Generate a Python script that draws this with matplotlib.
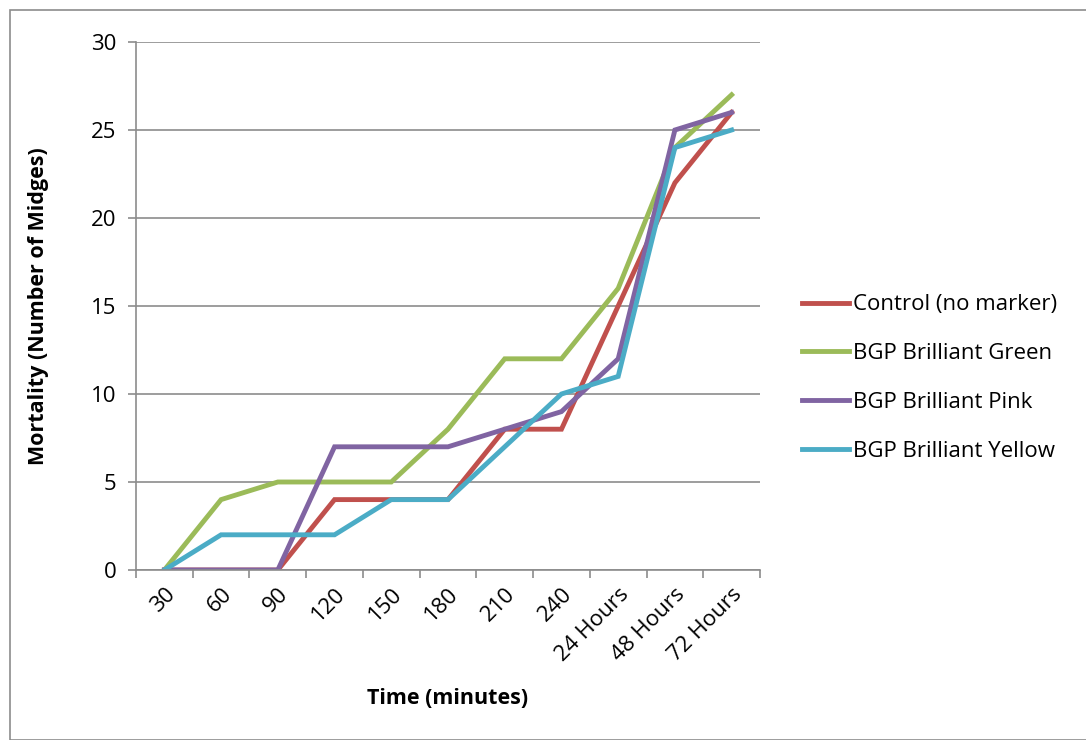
import matplotlib.pyplot as plt
from matplotlib.patches import Rectangle

categories = ["30", "60", "90", "120", "150", "180", "210", "240",
              "24 Hours", "48 Hours", "72 Hours"]
control = [0, 0, 0, 4, 4, 4, 8, 8, 15, 22, 26]
green = [0, 4, 5, 5, 5, 8, 12, 12, 16, 24, 27]
pink = [0, 0, 0, 7, 7, 7, 8, 9, 12, 25, 26]
yellow = [0, 2, 2, 2, 4, 4, 7, 10, 11, 24, 25]

series = [
    ("Control (no marker)", control, "#C0504D"),
    ("BGP Brilliant Green", green, "#9BBB59"),
    ("BGP Brilliant Pink", pink, "#8064A2"),
    ("BGP Brilliant Yellow", yellow, "#4BACC6"),
]

plt.rcParams['font.family'] = ['Open Sans', 'DejaVu Sans']

fig = plt.figure(figsize=(10.86, 7.4), dpi=100)
ax = fig.add_axes([136 / 1086, 1 - 570 / 740, 624 / 1086, 528 / 740])

x = list(range(len(categories)))
handles = []
for name, vals, col in series:
    h, = ax.plot(x, vals, color=col, lw=3.5, label=name, solid_joinstyle='miter')
    handles.append(h)

ax.set_xlim(-0.5, len(categories) - 0.5)
ax.set_ylim(0, 30)
ax.set_yticks(range(0, 31, 5))
ax.yaxis.grid(True, color="#8c8c8c", lw=1.2)
ax.set_axisbelow(True)

ax.set_xticks([i - 0.5 for i in range(len(categories) + 1)])
ax.set_xticklabels([])
ax.set_xticks(x, minor=True)
ax.set_xticklabels(categories, minor=True, rotation=45, ha="right",
                   rotation_mode="anchor", fontsize=16)
ax.tick_params(axis="x", which="minor", length=0, pad=10)
ax.tick_params(axis="x", which="major", length=6, width=1.2, color="#8c8c8c", direction="out")
ax.tick_params(axis="y", length=6, width=1.2, color="#8c8c8c", labelsize=16, pad=8)

for s in ["top", "right"]:
    ax.spines[s].set_visible(False)
for s in ["left", "bottom"]:
    ax.spines[s].set_color("#8c8c8c")
    ax.spines[s].set_linewidth(1.2)

ax.set_ylabel("Mortality (Number of Midges)", fontsize=15.5, fontweight="bold", labelpad=30)
ax.set_xlabel("Time (minutes)", fontsize=15.5, fontweight="bold", labelpad=16)

fig.legend(handles=handles, loc="center left", bbox_to_anchor=(782 / 1086, 1 - 378 / 740),
           frameon=False, fontsize=16, handlelength=2.1, handletextpad=0.2,
           labelspacing=1.25)

fig.patches.append(Rectangle((10 / 1086, 0), 1.2, 1 - 10 / 740, transform=fig.transFigure,
                             fill=False, edgecolor="#8c8c8c", lw=1.2))

fig.savefig("out.png", dpi=100)
